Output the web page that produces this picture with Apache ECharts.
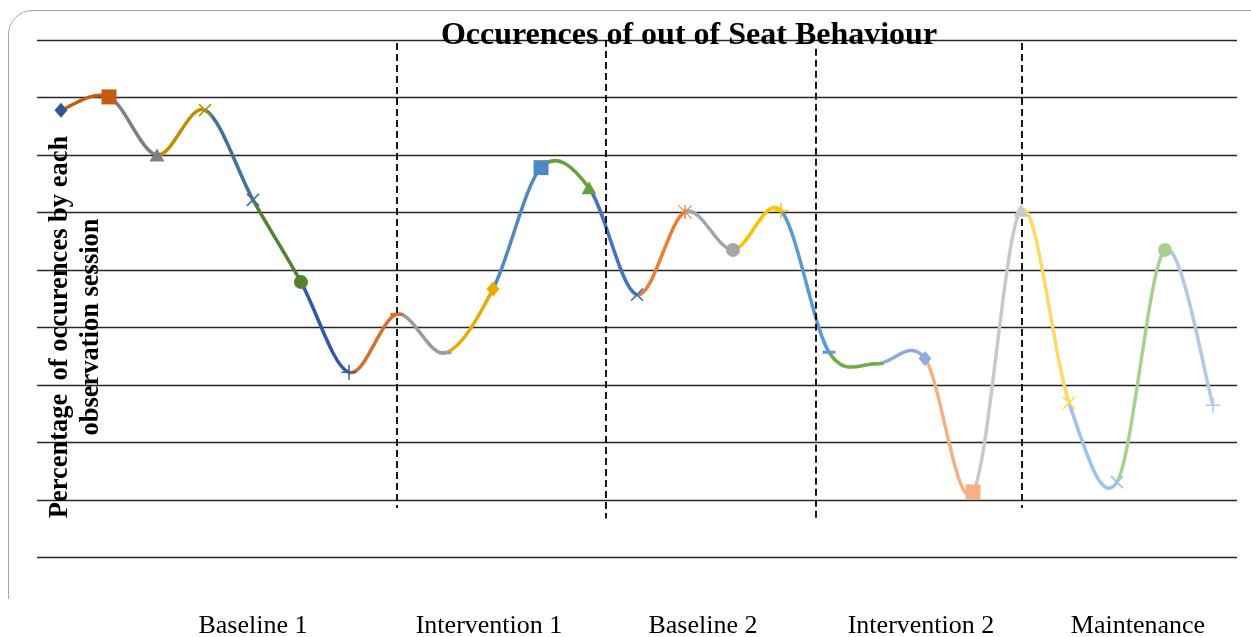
<!DOCTYPE html>
<html>
<head>
<meta charset="utf-8">
<script src="https://cdn.jsdelivr.net/npm/echarts@6/dist/echarts.min.js"></script>
<style>
  html, body { margin: 0; padding: 0; background: #fff; }
  #main { width: 1251px; height: 637px; }
</style>
</head>
<body>
<div id="main"></div>
<script>
var chartDom = document.getElementById('main');
var myChart = echarts.init(chartDom);
var option;

// sessions 1..25, percentage of occurences
var sessions = [];
for (var i = 1; i <= 25; i++) sessions.push('S' + i);
var values = [77.8, 80.1, 70.0, 77.8, 62.2, 47.9, 32.2, 42.3, 35.6, 46.7,
  67.8, 64.3, 45.7, 60.1, 53.5, 60.3, 35.7, 33.7, 34.6, 11.4,
  60.4, 26.9, 13.1, 53.5, 26.5];
var pointColors = ['#2F5597', '#C55A11', '#7F7F7F', '#BF9000', '#41719C', '#548235',
  '#3358A8', '#D7702C', '#9B9B9B', '#E6AC00', '#4E8AC2', '#64A13A',
  '#4472C4', '#ED7D31', '#A5A5A5', '#FFC000', '#5B9BD5', '#70AD47',
  '#8FAADC', '#F4B183', '#C9C9C9', '#FFD966', '#9DC3E6', '#A9D18E', '#B4C7E7'];
var markers = ['diamond', 'square', 'triangle', 'x', 'x', 'circle', 'plus', 'dash', 'dash', 'diamond',
  'square', 'triangle', 'x', 'star', 'circle', 'plus', 'dash', 'dash', 'diamond', 'square',
  'triangle', 'x', 'x', 'circle', 'plus'];

// phase boundaries (in session index units) and labels
var phaseBreaks = [7.0, 11.35, 15.73, 20.02];
var phaseBreakTop = [89.5, 90, 88.5, 89.5];
var phaseBreakBottom = [8.6, 6.8, 6.8, 8.6];
var phaseNames = ['Baseline 1', 'Intervention 1', 'Baseline 2', 'Intervention 2', 'Maintenance'];
var phaseLabelX = [253, 489, 703, 921, 1138];

var PLUS = 'path://M9,0h2v9h9v2h-9v9h-2v-9h-9v-2h9z';
var STAR = 'path://M9,0h2v20h-2z M1,0L10,9L19,0L20,1L11,10L20,19L19,20L10,11L1,20L0,19L9,10L0,1z';
var DASH = 'path://M0,0h20v4h-20z';

function markerStyle(m) {
  switch (m) {
    case 'diamond': return { symbol: 'diamond', symbolSize: [13, 15] };
    case 'square': return { symbol: 'rect', symbolSize: 15 };
    case 'triangle': return { symbol: 'triangle', symbolSize: [15, 13] };
    case 'circle': return { symbol: 'circle', symbolSize: 14 };
    case 'x': return { symbol: PLUS, symbolSize: 17, symbolRotate: 45 };
    case 'plus': return { symbol: PLUS, symbolSize: 15 };
    case 'star': return { symbol: STAR, symbolSize: 14 };
    case 'dash': return { symbol: DASH, symbolSize: [13, 3] };
  }
}

var markerData = values.map(function (v, i) {
  var s = markerStyle(markers[i]);
  s.value = v;
  s.itemStyle = { color: pointColors[i] };
  return s;
});
var curveData = values.map(function (v, i) { return [i, v]; });

var breakLines = phaseBreaks.map(function (x, i) {
  return [{ coord: [x, phaseBreakTop[i]] }, { coord: [x, phaseBreakBottom[i]] }];
});

// smoothed segment (Catmull-Rom style), coloured by the point it ends on
function renderSegment(params, api) {
  var i = params.dataIndex;
  if (i === 0) return null;
  var n = values.length;
  function pt(k) {
    k = Math.max(0, Math.min(n - 1, k));
    return api.coord([k, api.value(1, k)]);
  }
  var p0 = pt(i - 2), p1 = pt(i - 1), p2 = pt(i), p3 = pt(i + 1);
  return {
    type: 'bezierCurve',
    shape: {
      x1: p1[0], y1: p1[1], x2: p2[0], y2: p2[1],
      cpx1: p1[0] + (p2[0] - p0[0]) / 6, cpy1: p1[1] + (p2[1] - p0[1]) / 6,
      cpx2: p2[0] - (p3[0] - p1[0]) / 6, cpy2: p2[1] - (p3[1] - p1[1]) / 6
    },
    style: { fill: null, stroke: pointColors[i], lineWidth: 3.5, lineCap: 'butt' }
  };
}

var graphics = [
  {
    type: 'rect', z: 0,
    shape: { x: 8.5, y: 10.5, width: 1400, height: 800, r: 24 },
    style: { fill: 'none', stroke: '#a6a6a6', lineWidth: 1 }
  },
  {
    type: 'rect', z: 1,
    shape: { x: 0, y: 599, width: 1251, height: 40 },
    style: { fill: '#fff' }
  },
  {
    type: 'text', z: 10, x: 689, y: 36,
    style: {
      text: 'Occurences of out of Seat Behaviour',
      font: 'bold 32px "Liberation Serif"',
      fill: '#000', textAlign: 'center', textVerticalAlign: 'middle'
    }
  },
  {
    type: 'text', z: 10, x: 76, y: 327, rotation: Math.PI / 2,
    style: {
      text: 'Percentage  of occurences by each\nobservation session',
      font: 'bold 26.5px "Liberation Serif"', lineHeight: 31,
      fill: '#000', textAlign: 'center', textVerticalAlign: 'middle'
    }
  }
];
phaseNames.forEach(function (name, i) {
  graphics.push({
    type: 'text', z: 10, x: phaseLabelX[i], y: 626,
    style: {
      text: name, font: '26px "Liberation Serif"',
      fill: '#000', textAlign: 'center', textVerticalAlign: 'middle'
    }
  });
});

option = {
  backgroundColor: '#fff',
  animation: false,
  grid: { left: 37, right: 14, top: 40, bottom: 79.5 },
  xAxis: [
    {
      type: 'category',
      data: sessions,
      boundaryGap: true,
      axisLine: { show: false },
      axisTick: { show: false },
      axisLabel: { show: false }
    },
    {
      type: 'value',
      min: -0.5, max: 24.5,
      show: false
    }
  ],
  yAxis: {
    type: 'value',
    min: 0, max: 90, interval: 10,
    axisLine: { show: false },
    axisTick: { show: false },
    axisLabel: { show: false },
    splitLine: { lineStyle: { color: '#262626', width: 1.3 } }
  },
  graphic: graphics,
  series: [
    {
      name: 'Out of seat curve',
      type: 'custom',
      z: 4,
      renderItem: renderSegment,
      encode: { x: 0, y: 1 },
      data: curveData
    },
    {
      name: 'Out of seat',
      type: 'line',
      z: 6,
      showAllSymbol: true,
      lineStyle: { opacity: 0 },
      data: markerData
    },
    {
      type: 'line',
      xAxisIndex: 1,
      data: [],
      z: 3,
      markLine: {
        silent: true,
        symbol: ['none', 'none'],
        label: { show: false },
        lineStyle: { color: '#000', width: 1.8, type: [7, 4] },
        data: breakLines
      }
    }
  ]
};

option && myChart.setOption(option);
</script>
</body>
</html>
